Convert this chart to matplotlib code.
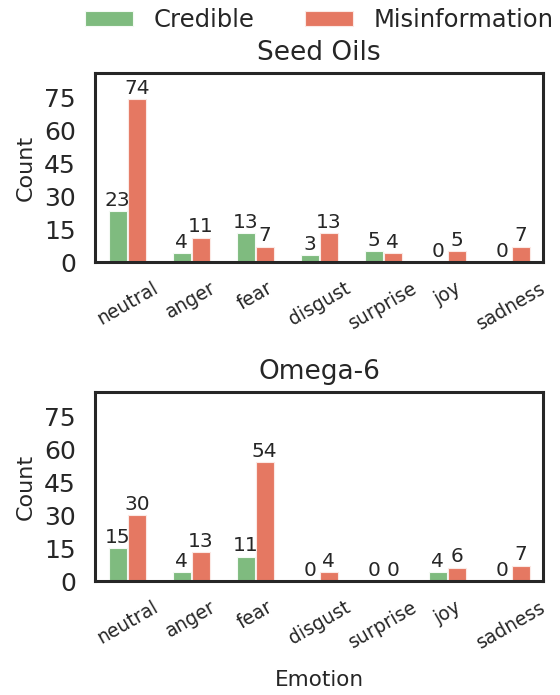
import numpy as np
import matplotlib
matplotlib.use("Agg")
import matplotlib.pyplot as plt
import seaborn as sns

sns.set_style("white")
plt.rcParams['font.family'] = ['DejaVu Sans']

emotions = ['neutral', 'anger', 'fear', 'disgust', 'surprise', 'joy', 'sadness']
topics = ['Seed Oils', 'Omega-6']
credible = {
    'Seed Oils': [23, 4, 13, 3, 5, 0, 0],
    'Omega-6': [15, 4, 11, 0, 0, 4, 0],
}
misinfo = {
    'Seed Oils': [74, 11, 7, 13, 4, 5, 7],
    'Omega-6': [30, 13, 54, 4, 0, 6, 7],
}

green = '#7fbb7f'
red = '#e57862'
dark = '#262626'

fig = plt.figure(figsize=(5.6, 6.95), dpi=100)
ax1 = fig.add_axes([0.17, 0.623, 0.80, 0.272])
ax2 = fig.add_axes([0.17, 0.164, 0.80, 0.272])

x = np.arange(len(emotions))
w = 0.28
for ax, topic in zip([ax1, ax2], topics):
    b1 = ax.bar(x - 0.15, credible[topic], w, color=green, edgecolor='#f4faf4',
                linewidth=0.8, label='Credible')
    b2 = ax.bar(x + 0.15, misinfo[topic], w, color=red, edgecolor='#fbe9e5',
                linewidth=0.8, label='Misinformation')
    for bars in (b1, b2):
        for bar in bars:
            h = bar.get_height()
            ax.annotate(f'{int(h)}', (bar.get_x() + bar.get_width() / 2, h),
                        xytext=(0, 1), textcoords='offset points',
                        ha='center', va='bottom', fontsize=14.5, color=dark)
    ax.set_xlim(-0.5, len(emotions) - 0.5)
    ax.set_ylim(0, 86)
    ax.set_yticks([0, 15, 30, 45, 60, 75])
    ax.tick_params(axis='y', labelsize=18, colors=dark, length=0, pad=14)
    ax.set_xticks(x)
    ax.set_xticklabels(emotions, rotation=30, fontsize=13.5, color=dark)
    ax.tick_params(axis='x', length=0, pad=12)
    ax.set_ylabel('Count', fontsize=16, color=dark, labelpad=6)
    ax.set_title(topic, fontsize=19, color=dark, pad=9)
    for s in ax.spines.values():
        s.set_linewidth(2.2)
        s.set_color(dark)

ax2.set_xlabel('Emotion', fontsize=15.5, color=dark, labelpad=13)

handles, labels = ax1.get_legend_handles_labels()
fig.legend(handles, labels, loc='upper center', bbox_to_anchor=(0.57, 1.02),
           ncol=2, frameon=False, fontsize=17.5, handlelength=1.95,
           handleheight=0.55, handletextpad=0.85, columnspacing=2.1,
           labelcolor=dark)

fig.savefig('out.png', dpi=100)
